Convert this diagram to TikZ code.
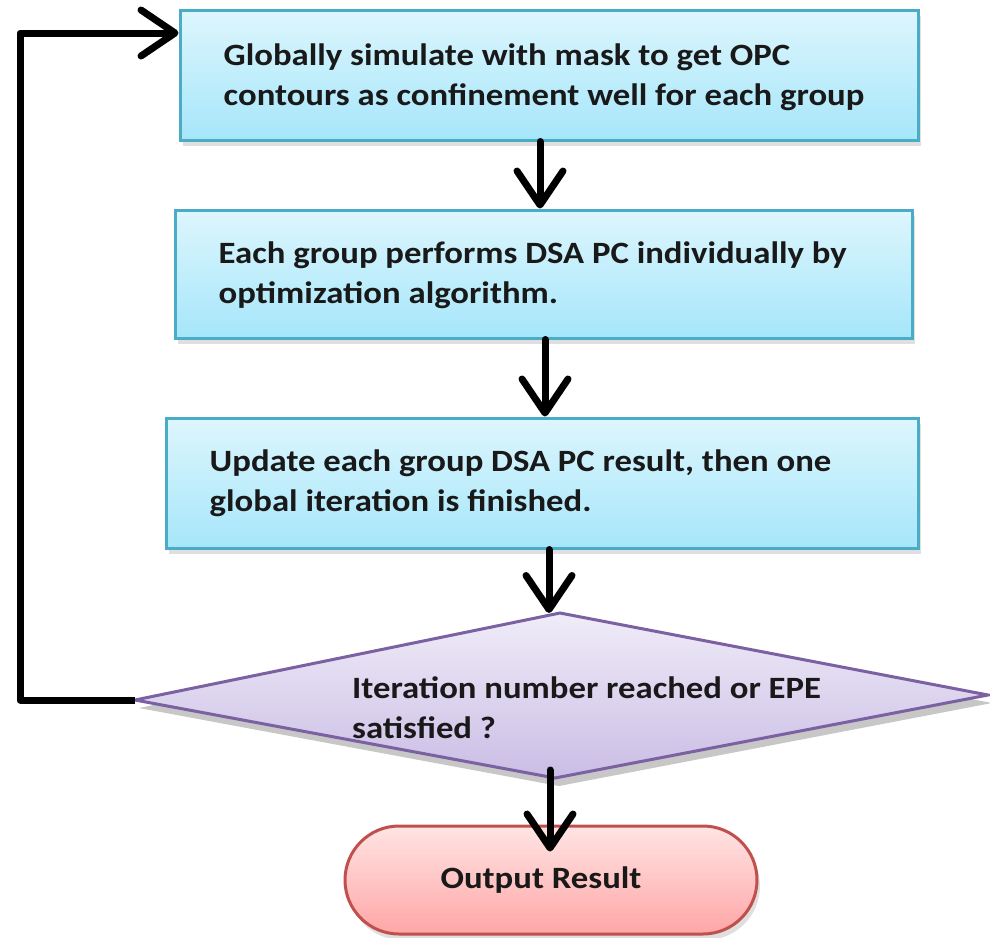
\documentclass[tikz,border=0pt]{standalone}
\usepackage{fontspec}
\setmainfont{Carlito}[FakeStretch=1.12]
\usetikzlibrary{arrows.meta,shadows,calc}
\definecolor{boxtop}{HTML}{DDF6FD}
\definecolor{boxbot}{HTML}{A6E6FA}
\definecolor{boxline}{HTML}{4BACC6}
\definecolor{diatop}{HTML}{F0ECF8}
\definecolor{diabot}{HTML}{CABDE5}
\definecolor{dialine}{HTML}{7B60A2}
\definecolor{pilltop}{HTML}{FFE4E4}
\definecolor{pillbot}{HTML}{FFA6A6}
\definecolor{pillline}{HTML}{C0504D}
\tikzset{
  stepbox/.style={draw=boxline, line width=3pt, top color=boxtop, bottom color=boxbot,
    rectangle, inner sep=0pt,
    drop shadow={shadow xshift=3pt, shadow yshift=-6pt, opacity=0.25}},
  steptext/.style={anchor=west, align=left, inner sep=0pt,
    font=\fontsize{31}{40}\selectfont\bfseries, text=black!90},
  arr/.style={line width=7pt, line join=round, line cap=round,
    -{Straight Barb[length=34pt,width=46pt,line join=round,line cap=round]}},
}
\begin{document}
\begin{tikzpicture}[x=1pt,y=-1pt]
\useasboundingbox (0,0) rectangle (990,937);
% boxes
\node[stepbox, minimum width=738pt, minimum height=130pt] (b1) at (549,75) {};
\node[steptext] (t1) at ($(b1.west)+(45,2)$) {Globally simulate with mask to get OPC\\contours as confinement well for each group};
\node[stepbox, minimum width=737pt, minimum height=128pt] (b2) at (543.5,274) {};
\node[steptext] (t2) at ($(b2.west)+(45,1)$) {Each group performs DSA PC individually by\\optimization algorithm.};
\node[stepbox, minimum width=752pt, minimum height=130pt] (b3) at (542,483) {};
\node[steptext] (t3) at ($(b3.west)+(45,0)$) {Update each group DSA PC result, then one\\global iteration is finished.};
% diamond
\coordinate (dL) at (135,700);
\coordinate (dT) at (560,613);
\coordinate (dR) at (988,695);
\coordinate (dB) at (555,778);
\fill[black, opacity=0.22] ($(dL)+(4,8)$) -- ($(dT)+(4,8)$) -- ($(dR)+(4,8)$) -- ($(dB)+(4,8)$) -- cycle;
\draw[draw=dialine, line width=3pt, top color=diatop, bottom color=diabot] (dL) -- (dT) -- (dR) -- (dB) -- cycle;
\node[steptext] (t4) at (352,708) {Iteration number reached or EPE\\satisfied ?};
% output
\node[draw=pillline, line width=3pt, top color=pilltop, bottom color=pillbot,
  rounded corners=54pt, minimum width=412pt, minimum height=108pt, inner sep=0pt,
  drop shadow={shadow xshift=3pt, shadow yshift=-6pt, opacity=0.25},
  font=\fontsize{31}{40}\selectfont\bfseries, text=black!90] (out) at (551,880) {\hspace*{-20pt}Output Result};
% arrows
\coordinate (a4) at ($(dB)+(-5,-8)$);
\coordinate (a4e) at ($(a4 |- out.north)+(0,27)$);
\draw[arr] ([xshift=-9pt]b1.south) -- ([xshift=-9pt]b1.south |- b2.north);
\draw[arr] ([xshift=1.5pt]b2.south) -- ([xshift=1.5pt]b2.south |- b3.north);
\draw[arr] ([xshift=7pt]b3.south) -- ([xshift=7pt]b3.south |- dT);
\draw[arr] (a4) -- (a4e);
\draw[arr, line cap=butt] (dL) -- (20,700) -- (20,33) -- (b1.west |- 0,33);
\end{tikzpicture}
\end{document}
